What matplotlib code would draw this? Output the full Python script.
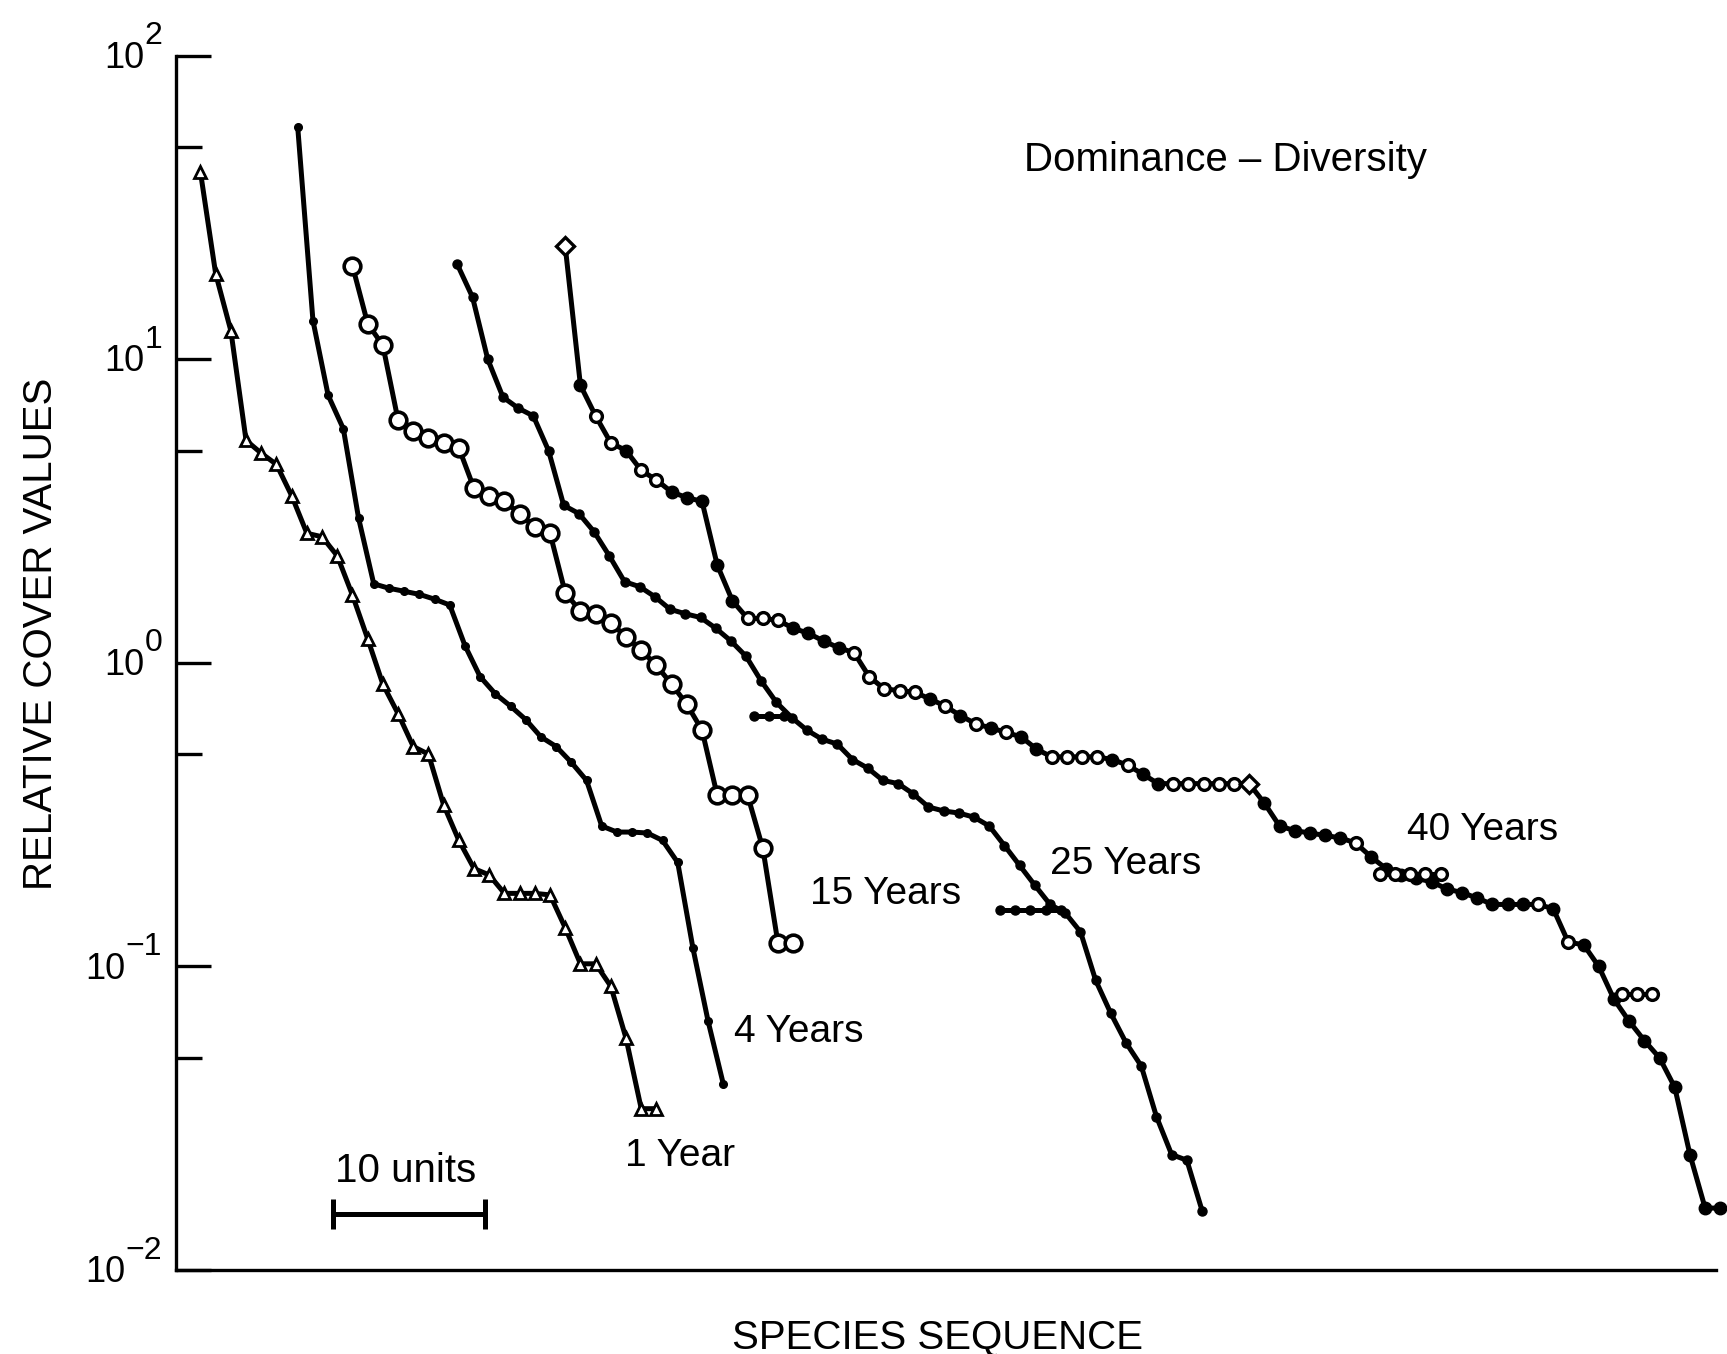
import numpy as np
import matplotlib.pyplot as plt
from matplotlib.ticker import FixedLocator, NullFormatter

plt.rcParams['font.family'] = ['Liberation Sans', 'DejaVu Sans']

# species sequence position of the first species of each stand
start_1yr = 1.6
start_4yr = 8.0
start_15yr = 11.6
start_25yr = 18.5
start_40yr = 25.6

# relative cover values, one per species, in rank order
cover_1yr = [41.3, 19.1, 12.4, 5.4, 4.9, 4.5, 3.55, 2.67, 2.6, 2.25, 1.67, 1.2, 0.85,
             0.68, 0.53, 0.50, 0.34, 0.26, 0.21, 0.20, 0.174, 0.174, 0.174, 0.172,
             0.134, 0.102, 0.102, 0.086, 0.058, 0.034, 0.034]
cover_4yr = [58, 13.4, 7.6, 5.9, 3.0, 1.82, 1.76, 1.72, 1.68, 1.62, 1.55, 1.14, 0.90,
             0.79, 0.72, 0.65, 0.57, 0.53, 0.47, 0.41, 0.29, 0.277, 0.277, 0.275,
             0.26, 0.22, 0.115, 0.066, 0.041]
cover_15yr = [20.3, 13.1, 11.1, 6.3, 5.8, 5.5, 5.3, 5.1, 3.75, 3.55, 3.4, 3.1, 2.8,
              2.67, 1.7, 1.48, 1.45, 1.35, 1.22, 1.10, 0.98, 0.85, 0.73, 0.60,
              0.366, 0.366, 0.366, 0.245, 0.119, 0.119]
cover_25yr = [20.5, 16.0, 10.0, 7.5, 6.9, 6.5, 5.0, 3.3, 3.1, 2.7, 2.25, 1.85, 1.78,
              1.65, 1.5, 1.45, 1.41, 1.3, 1.18, 1.05, 0.87, 0.74, 0.66, 0.60, 0.56,
              0.54, 0.48, 0.45, 0.41, 0.40, 0.37, 0.335, 0.325, 0.32, 0.31, 0.29,
              0.25, 0.215, 0.185, 0.16, 0.15, 0.13, 0.09, 0.07, 0.056, 0.047, 0.032,
              0.024, 0.023, 0.0157]
cover_40yr = [23.5, 8.2, 6.5, 5.3, 5.0, 4.3, 4.0, 3.65, 3.5, 3.4, 2.1, 1.6, 1.40,
              1.40, 1.38, 1.30, 1.25, 1.18, 1.12, 1.08, 0.90, 0.82, 0.81, 0.80, 0.76,
              0.72, 0.67, 0.63, 0.61, 0.59, 0.57, 0.52, 0.49, 0.49, 0.49, 0.49, 0.48,
              0.46, 0.43, 0.40, 0.40, 0.40, 0.40, 0.40, 0.40, 0.40, 0.345, 0.29,
              0.28, 0.275, 0.27, 0.265, 0.255, 0.23, 0.21, 0.20, 0.195, 0.19, 0.18,
              0.175, 0.168, 0.16, 0.16, 0.16, 0.16, 0.155, 0.12, 0.118, 0.10, 0.078,
              0.066, 0.057, 0.05, 0.04, 0.024, 0.016, 0.016]
# 1 = filled symbol, 0 = open symbol (40 year stand uses both)
filled_40yr = [0, 1, 0, 0, 1, 0, 0, 1, 1, 1, 1, 1, 0, 0, 0, 1, 1, 1, 1, 0, 0, 0, 0, 0,
               1, 0, 1, 0, 1, 0, 1, 1, 0, 0, 0, 0, 1, 0, 1, 1, 0, 0, 0, 0, 0, 0, 1, 1,
               1, 1, 1, 1, 0, 1, 1, 1, 1, 1, 1, 1, 1, 1, 1, 1, 0, 1, 0, 1, 1, 1, 1, 1,
               1, 1, 1, 1, 1]
# species of the 40 year stand drawn with an open diamond
diamond_40yr = [0, 45]

# tied species drawn as short horizontal rows: (start, count, value)
ties_25yr = [(38.0, 3, 0.667), (54.2, 5, 0.153)]
ties_40yr = [(79.2, 5, 0.202), (95.1, 3, 0.081)]

labels = ['1 Year', '4 Years', '15 Years', '25 Years', '40 Years']
major_ticks = [0.01, 0.1, 1, 10, 100]
exponents = ['\u22122', '\u22121', '0', '1', '2']
minor_ticks = [0.05, 0.5, 5, 50]

fig = plt.figure(figsize=(17.27, 13.54), dpi=100)
ax = fig.add_axes([0.102, 0.062, 0.8915, 0.897])

LW = 3.6


def draw_line(start, values):
    x = start + np.arange(len(values))
    ax.plot(x, values, '-', color='black', lw=LW, zorder=2, clip_on=False,
            solid_joinstyle='round')
    return x


x = draw_line(start_1yr, cover_1yr)
ax.plot(x, cover_1yr, '^', ms=9, mfc='white', mec='black', mew=2.0, ls='none', zorder=3)

x = draw_line(start_4yr, cover_4yr)
ax.plot(x, cover_4yr, 'o', ms=5.5, color='black', ls='none', zorder=3)

x = draw_line(start_15yr, cover_15yr)
ax.plot(x, cover_15yr, 'o', ms=12, mfc='white', mec='black', mew=2.6, ls='none', zorder=3)

x = draw_line(start_25yr, cover_25yr)
ax.plot(x, cover_25yr, 'o', ms=6.5, color='black', ls='none', zorder=3)
for s, n, v in ties_25yr:
    tx = s + np.arange(n)
    ax.plot(tx, [v] * n, 'o-', ms=6.5, lw=LW, color='black', zorder=3)

x = draw_line(start_40yr, cover_40yr)
y40 = np.array(cover_40yr)
f40 = np.array(filled_40yr, dtype=bool)
d40 = np.zeros(len(cover_40yr), dtype=bool)
d40[diamond_40yr] = True
ax.plot(x[f40], y40[f40], 'o', ms=9, color='black', ls='none', zorder=3, clip_on=False)
ax.plot(x[~f40 & ~d40], y40[~f40 & ~d40], 'o', ms=8.5, mfc='white', mec='black',
        mew=2.4, ls='none', zorder=4, clip_on=False)
ax.plot(x[d40], y40[d40], 'D', ms=9, mfc='white', mec='black', mew=2.4, ls='none',
        zorder=4)
for s, n, v in ties_40yr:
    tx = s + np.arange(n)
    ax.plot(tx, [v] * n, '-', lw=LW, color='black', zorder=3)
    ax.plot(tx, [v] * n, 'o', ms=8.5, mfc='white', mec='black', mew=2.4, ls='none', zorder=4)

# curve labels
txt = dict(fontsize=28, color='black', va='center', ha='left')
ax.text(29.5, 0.0237, labels[0], **txt)
ax.text(36.7, 0.0607, labels[1], **txt)
ax.text(41.7, 0.173, labels[2], **txt)
ax.text(57.5, 0.218, labels[3], **txt)
ax.text(81.0, 0.282, labels[4], **txt)
ax.text(55.8, 45.2, 'Dominance \u2013 Diversity', fontsize=29, va='center', ha='left')

# scale bar
ax.plot([10.3, 20.3], [0.0153, 0.0153], '-', color='black', lw=LW)
ax.plot([10.3, 20.3], [0.0153, 0.0153], '|', color='black', ms=22, mew=LW)
ax.text(15.1, 0.0212, '10 units', fontsize=29, ha='center', va='center')

ax.set_yscale('log')
ax.set_ylim(0.01, 100)
ax.set_xlim(0, 101.3)
ax.yaxis.set_major_locator(FixedLocator(major_ticks))
ax.yaxis.set_major_formatter(NullFormatter())
ax.yaxis.set_minor_locator(FixedLocator(minor_ticks))
ax.yaxis.set_minor_formatter(NullFormatter())
ax.set_xticks([])
ax.tick_params(axis='y', which='major', direction='in', length=25, width=2.4)
ax.tick_params(axis='y', which='minor', direction='in', length=19, width=2.4)

# tick labels written as "10" with a large raised exponent
for v, e in zip(major_ticks, exponents):
    sup = ax.annotate(e, xy=(0, v), xycoords=('axes fraction', 'data'),
                      xytext=(-10, 14), textcoords='offset points',
                      ha='right', va='center', fontsize=23)
    ax.annotate('10', xy=(0, v), xycoords=(sup, 'data'),
                xytext=(0, -2), textcoords='offset points',
                ha='right', va='center', fontsize=26)

for side in ['top', 'right']:
    ax.spines[side].set_visible(False)
for side in ['left', 'bottom']:
    ax.spines[side].set_linewidth(2.4)

fig.text(0.0235, 0.532, 'RELATIVE COVER VALUES', rotation=90, fontsize=29,
         ha='center', va='center')
fig.text(0.543, 0.012, 'SPECIES SEQUENCE', fontsize=29, ha='center', va='center')

fig.savefig('out.png', dpi=100, facecolor='white')
